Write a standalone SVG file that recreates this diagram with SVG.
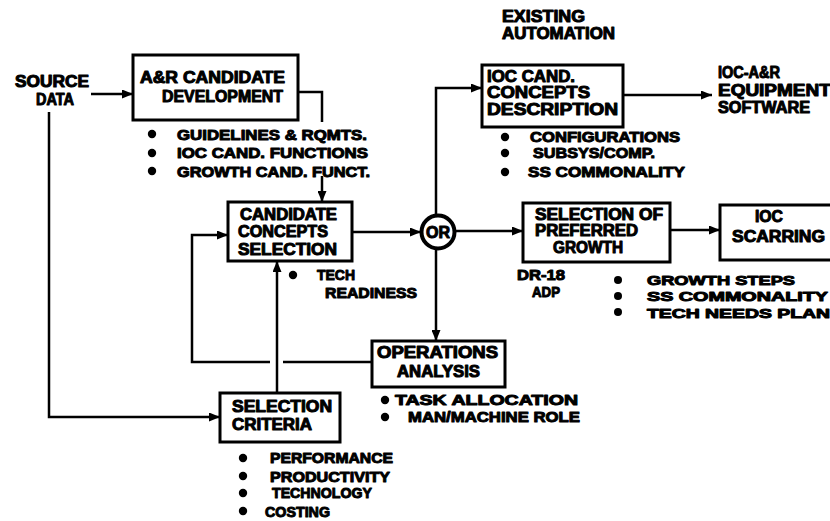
<svg xmlns="http://www.w3.org/2000/svg" width="830" height="521" viewBox="0 0 830 521">
  <style>
    .box { fill: #fff; stroke: #000; stroke-width: 3; }
    .ln { fill: none; stroke: #000; stroke-width: 2.5; }
    .arr { marker-end: url(#ah); }
    text { font-family: "Liberation Sans", Arial, sans-serif; font-weight: bold; font-size: 16px; fill: #000; stroke: #000; stroke-width: 1; stroke-linejoin: round; }
    .sm { font-size: 15px; }
    .xs { font-size: 13.5px; }
    .dot { fill: #000; }
  </style>
  <defs>
    <marker id="ah" markerUnits="userSpaceOnUse" markerWidth="11" markerHeight="9" refX="11" refY="4.5" orient="auto">
      <path d="M0,0 L11,4.5 L0,9 z" fill="#000"/>
    </marker>
  </defs>
  <rect width="830" height="521" fill="#fff"/>

  <!-- connectors -->
  <g id="connectors">
    <path class="ln arr" d="M91,94 H133"/>
    <path class="ln" d="M298,92 H322 V122"/>
    <path class="ln arr" d="M322,176 V202"/>
    <path class="ln arr" d="M49,112 V417 H220"/>
    <path class="ln arr" d="M277,393 V261"/>
    <path class="ln" d="M373,362 H283"/>
    <path class="ln arr" d="M270,362 H192 V235 H228"/>
    <path class="ln arr" d="M352,232 H421"/>
    <path class="ln arr" d="M436,215 V88 H482"/>
    <path class="ln arr" d="M436,249 V341"/>
    <path class="ln arr" d="M455,231 H523"/>
    <path class="ln arr" d="M623,95 H712"/>
    <path class="ln arr" d="M670,230 H720"/>
  </g>

  <!-- free labels -->
  <g id="source-data">
    <text x="15" y="87" textLength="74" lengthAdjust="spacingAndGlyphs">SOURCE</text>
    <text x="55" y="105" text-anchor="middle" textLength="38" lengthAdjust="spacingAndGlyphs">DATA</text>
  </g>
  <g id="existing-automation">
    <text x="502" y="22" textLength="83" lengthAdjust="spacingAndGlyphs">EXISTING</text>
    <text x="502" y="39" textLength="113" lengthAdjust="spacingAndGlyphs">AUTOMATION</text>
  </g>
  <g id="ioc-ar-output">
    <text x="718" y="78" textLength="62" lengthAdjust="spacingAndGlyphs">IOC-A&amp;R</text>
    <text x="718" y="96" textLength="118" lengthAdjust="spacingAndGlyphs">EQUIPMENT/</text>
    <text x="718" y="113" textLength="92" lengthAdjust="spacingAndGlyphs">SOFTWARE</text>
  </g>

  <!-- A&R candidate development -->
  <g id="ar-candidate-development">
    <rect class="box" x="133" y="55" width="165" height="65"/>
    <text x="140" y="83" textLength="145" lengthAdjust="spacingAndGlyphs">A&amp;R CANDIDATE</text>
    <text x="162" y="102" textLength="121" lengthAdjust="spacingAndGlyphs">DEVELOPMENT</text>
    <circle class="dot" cx="152" cy="134" r="4.2"/>
    <circle class="dot" cx="152" cy="153" r="4.2"/>
    <circle class="dot" cx="152" cy="171" r="4.2"/>
    <text class="sm" x="177" y="140" textLength="190" lengthAdjust="spacingAndGlyphs">GUIDELINES &amp; RQMTS.</text>
    <text class="sm" x="177" y="158" textLength="191" lengthAdjust="spacingAndGlyphs">IOC CAND. FUNCTIONS</text>
    <text class="sm" x="177" y="177" textLength="193" lengthAdjust="spacingAndGlyphs">GROWTH CAND. FUNCT.</text>
  </g>

  <!-- candidate concepts selection -->
  <g id="candidate-concepts-selection">
    <rect class="box" x="228" y="202" width="124" height="59"/>
    <text x="240" y="220" textLength="97" lengthAdjust="spacingAndGlyphs">CANDIDATE</text>
    <text x="238" y="237" textLength="90" lengthAdjust="spacingAndGlyphs">CONCEPTS</text>
    <text x="238" y="255" textLength="99" lengthAdjust="spacingAndGlyphs">SELECTION</text>
    <circle class="dot" cx="293" cy="275" r="4.2"/>
    <text class="sm" x="317" y="280" textLength="38" lengthAdjust="spacingAndGlyphs">TECH</text>
    <text class="sm" x="325" y="298" textLength="92" lengthAdjust="spacingAndGlyphs">READINESS</text>
  </g>

  <!-- OR junction -->
  <g id="or-junction">
    <circle cx="438" cy="232" r="16.5" fill="#fff" stroke="#000" stroke-width="4"/>
    <text x="426" y="238" textLength="24" lengthAdjust="spacingAndGlyphs">OR</text>
  </g>

  <!-- IOC candidate concepts description -->
  <g id="ioc-cand-concepts-description">
    <rect class="box" x="482" y="65" width="141" height="62"/>
    <text x="487" y="82" textLength="88" lengthAdjust="spacingAndGlyphs">IOC CAND.</text>
    <text x="487" y="98" textLength="103" lengthAdjust="spacingAndGlyphs">CONCEPTS</text>
    <text x="487" y="115" textLength="131" lengthAdjust="spacingAndGlyphs">DESCRIPTION</text>
    <circle class="dot" cx="505" cy="137" r="4.2"/>
    <circle class="dot" cx="505" cy="153" r="4.2"/>
    <circle class="dot" cx="505" cy="172" r="4.2"/>
    <text class="sm" x="530" y="142" textLength="150" lengthAdjust="spacingAndGlyphs">CONFIGURATIONS</text>
    <text class="sm" x="533" y="158" textLength="122" lengthAdjust="spacingAndGlyphs">SUBSYS/COMP.</text>
    <text class="sm" x="528" y="177" textLength="157" lengthAdjust="spacingAndGlyphs">SS COMMONALITY</text>
  </g>

  <!-- selection of preferred growth -->
  <g id="selection-of-preferred-growth">
    <rect class="box" x="523" y="203" width="147" height="59"/>
    <text x="535" y="220" textLength="128" lengthAdjust="spacingAndGlyphs">SELECTION OF</text>
    <text x="535" y="236" textLength="103" lengthAdjust="spacingAndGlyphs">PREFERRED</text>
    <text x="553" y="253" textLength="70" lengthAdjust="spacingAndGlyphs">GROWTH</text>
    <text class="sm" x="517" y="280" textLength="48" lengthAdjust="spacingAndGlyphs">DR-18</text>
    <text class="sm" x="532" y="297" textLength="28" lengthAdjust="spacingAndGlyphs">ADP</text>
    <circle class="dot" cx="618" cy="280" r="4"/>
    <circle class="dot" cx="618" cy="296" r="4"/>
    <circle class="dot" cx="618" cy="312" r="4"/>
    <text class="xs" x="647" y="285" textLength="148" lengthAdjust="spacingAndGlyphs">GROWTH STEPS</text>
    <text class="xs" x="647" y="301" textLength="181" lengthAdjust="spacingAndGlyphs">SS COMMONALITY</text>
    <text class="xs" x="647" y="318" textLength="183" lengthAdjust="spacingAndGlyphs">TECH NEEDS PLAN</text>
  </g>

  <!-- IOC scarring -->
  <g id="ioc-scarring">
    <rect class="box" x="720" y="205" width="115" height="55"/>
    <text x="755" y="222" textLength="28" lengthAdjust="spacingAndGlyphs">IOC</text>
    <text x="732" y="242" textLength="93" lengthAdjust="spacingAndGlyphs">SCARRING</text>
  </g>

  <!-- operations analysis -->
  <g id="operations-analysis">
    <rect class="box" x="372" y="341" width="133" height="46"/>
    <text x="377" y="358" textLength="121" lengthAdjust="spacingAndGlyphs">OPERATIONS</text>
    <text x="397" y="377" textLength="83" lengthAdjust="spacingAndGlyphs">ANALYSIS</text>
    <circle class="dot" cx="385" cy="400" r="4.2"/>
    <circle class="dot" cx="385" cy="417" r="4.2"/>
    <text class="sm" x="395" y="405" textLength="183" lengthAdjust="spacingAndGlyphs">TASK ALLOCATION</text>
    <text class="sm" x="408" y="422" textLength="172" lengthAdjust="spacingAndGlyphs">MAN/MACHINE ROLE</text>
  </g>

  <!-- selection criteria -->
  <g id="selection-criteria">
    <rect class="box" x="220" y="393" width="120" height="49"/>
    <text x="232" y="412" textLength="100" lengthAdjust="spacingAndGlyphs">SELECTION</text>
    <text x="232" y="430" textLength="80" lengthAdjust="spacingAndGlyphs">CRITERIA</text>
    <circle class="dot" cx="243" cy="458" r="4.2"/>
    <circle class="dot" cx="243" cy="476" r="4.2"/>
    <circle class="dot" cx="243" cy="493" r="4.2"/>
    <circle class="dot" cx="243" cy="511" r="4.2"/>
    <text class="sm" x="270" y="463" textLength="123" lengthAdjust="spacingAndGlyphs">PERFORMANCE</text>
    <text class="sm" x="270" y="482" textLength="120" lengthAdjust="spacingAndGlyphs">PRODUCTIVITY</text>
    <text class="sm" x="272" y="498" textLength="100" lengthAdjust="spacingAndGlyphs">TECHNOLOGY</text>
    <text class="sm" x="265" y="517" textLength="65" lengthAdjust="spacingAndGlyphs">COSTING</text>
  </g>
</svg>
